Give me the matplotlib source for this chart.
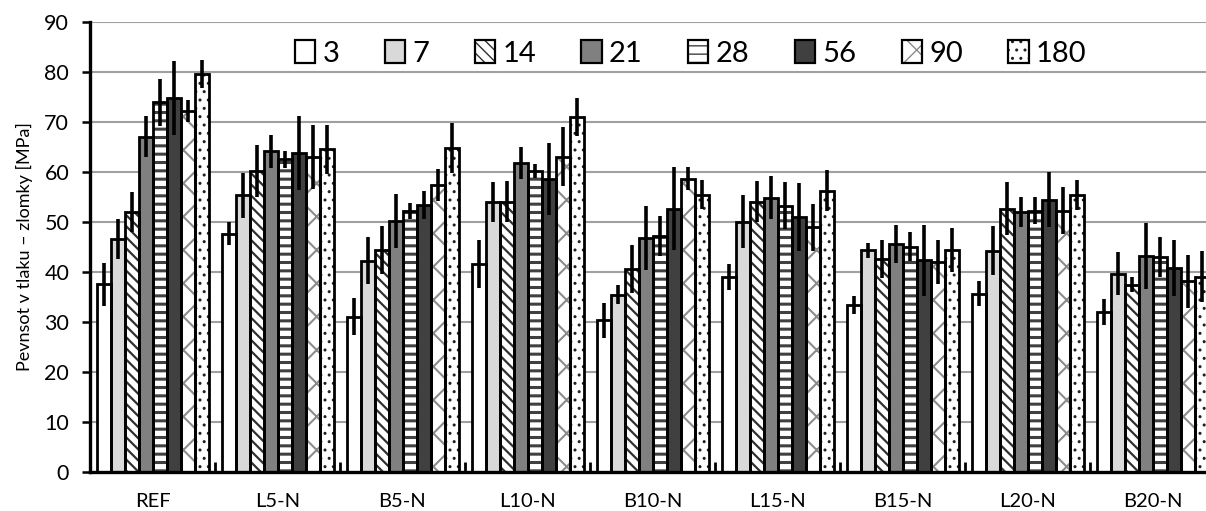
import matplotlib
matplotlib.use("Agg")
import matplotlib.pyplot as plt
import numpy as np
from matplotlib.patches import Patch
from matplotlib.legend_handler import HandlerTuple
from matplotlib.ticker import FixedLocator

plt.rcParams['font.family'] = ['Lato', 'DejaVu Sans']

categories = ["REF", "L5-N", "B5-N", "L10-N", "B10-N", "L15-N", "B15-N", "L20-N", "B20-N"]
ages = ["3", "7", "14", "21", "28", "56", "90", "180"]

# mean compressive strength [MPa] per curing age
mean_3 = [37.6, 47.7, 31.1, 41.6, 30.4, 39.1, 33.5, 35.7, 32.1]
mean_7 = [46.6, 55.4, 42.3, 54.1, 35.5, 50.1, 44.4, 44.3, 39.7]
mean_14 = [52.0, 60.3, 44.5, 54.1, 40.6, 54.1, 42.6, 52.7, 37.5]
mean_21 = [67.1, 64.2, 50.2, 61.9, 46.9, 54.9, 45.6, 52.1, 43.2]
mean_28 = [74.0, 62.6, 52.2, 60.2, 47.3, 53.3, 45.1, 52.3, 43.0]
mean_56 = [74.8, 63.8, 53.5, 58.7, 52.7, 51.0, 42.4, 54.5, 40.8]
mean_90 = [72.2, 63.0, 57.5, 63.1, 58.7, 49.0, 42.0, 52.3, 38.2]
mean_180 = [79.7, 64.6, 64.8, 71.0, 55.5, 56.3, 44.4, 55.5, 39.1]

# standard deviations [MPa]
sd_3 = [4.3, 2.4, 3.7, 4.8, 3.5, 2.6, 1.8, 2.45, 2.6]
sd_7 = [4.0, 4.5, 4.7, 4.0, 1.85, 5.3, 1.5, 4.9, 4.35]
sd_14 = [4.0, 5.2, 4.8, 4.1, 4.7, 4.1, 3.85, 5.3, 1.5]
sd_21 = [4.1, 3.3, 5.4, 3.2, 6.4, 4.35, 3.85, 3.0, 6.6]
sd_28 = [4.7, 1.7, 1.6, 1.35, 4.0, 4.75, 2.9, 2.7, 4.05]
sd_56 = [7.4, 7.4, 2.8, 7.2, 8.3, 6.8, 7.1, 5.5, 5.55]
sd_90 = [2.2, 6.4, 3.2, 5.9, 2.35, 4.7, 4.35, 4.7, 5.3]
sd_180 = [2.8, 4.9, 5.0, 3.8, 2.95, 4.1, 4.4, 3.0, 5.05]

means = [mean_3, mean_7, mean_14, mean_21, mean_28, mean_56, mean_90, mean_180]
sds = [sd_3, sd_7, sd_14, sd_21, sd_28, sd_56, sd_90, sd_180]

# (face colour, hatch, hatch colour, hatch linewidth)
styles = [
    ("white", None, None, 1.0),
    ("#d9d9d9", None, None, 1.0),
    ("white", "\\\\\\", "#303030", 1.6),
    ("#808080", None, None, 1.0),
    ("white", "--", "#404040", 2.2),
    ("#404040", None, None, 1.0),
    ("white", "x", "#8c8c8c", 1.5),
    ("white", "..", "#202020", 1.0),
]

W, H = 1206, 511
fig = plt.figure(figsize=(W / 100, H / 100), dpi=100)
left_px, right_px, top_px, bottom_px = 90, 1215, 22, 472
ax = fig.add_axes([left_px / W, 1 - bottom_px / H,
                   (right_px - left_px) / W, (bottom_px - top_px) / H])

x = np.arange(len(categories))
bw = 0.112


def hatched(face, hatch, hcolor, hlw):
    p = Patch(facecolor=face, hatch=hatch, edgecolor=hcolor or face, linewidth=0)
    if hasattr(p, "set_hatch_linewidth"):
        p.set_hatch_linewidth(hlw)
    return p


handles = []
for i, (m, s, st) in enumerate(zip(means, sds, styles)):
    face, hatch, hcolor, hlw = st
    pos = x + (i - 3.5) * bw
    with plt.rc_context({"hatch.linewidth": hlw}):
        fill = ax.bar(pos, m, bw, color=face, hatch=hatch,
                      edgecolor=hcolor if hcolor else face, linewidth=0, zorder=2)
        for p in fill:
            if hasattr(p, "set_hatch_linewidth"):
                p.set_hatch_linewidth(hlw)
        hp = hatched(face, hatch, hcolor, hlw)
    ax.bar(pos, m, bw, fill=False, edgecolor="black", linewidth=2.0, zorder=3)
    ax.errorbar(pos, m, yerr=s, fmt="none", ecolor="black", elinewidth=2.6,
                capsize=0, zorder=4)
    op = Patch(facecolor="none", edgecolor="black", linewidth=1.6)
    handles.append((hp, op))

ax.set_xlim(-0.5, len(categories) - 0.5)
ax.set_ylim(0, 90)
ax.set_yticks(np.arange(0, 91, 10))
ax.yaxis.grid(True, color="#a0a0a0", linewidth=1.5, zorder=0)
ax.set_axisbelow(True)

ax.set_xticks(x)
ax.set_xticklabels(categories)
ax.xaxis.set_minor_locator(FixedLocator(np.arange(-0.5, len(categories), 1.0)))
ax.tick_params(axis="x", which="major", length=0, pad=15, labelsize=14.5)
ax.tick_params(axis="x", which="minor", direction="in", length=7, width=2.0)
ax.tick_params(axis="y", direction="out", length=6, width=1.8, pad=9, labelsize=15.5)

for side in ("top", "right"):
    ax.spines[side].set_visible(False)
for side in ("left", "bottom"):
    ax.spines[side].set_linewidth(2.4)

ax.set_ylabel("Pevnsot v tlaku – zlomky [MPa]", fontsize=13, labelpad=8)

leg = ax.legend(handles, ages, handler_map={tuple: HandlerTuple(ndivide=1, pad=0)},
                ncol=8, loc="upper center", bbox_to_anchor=(0.534, 0.985),
                frameon=False, fontsize=21, handlelength=0.7, handleheight=0.8,
                handletextpad=0.25, columnspacing=1.55, borderaxespad=0)

fig.savefig("out.png", dpi=100)
